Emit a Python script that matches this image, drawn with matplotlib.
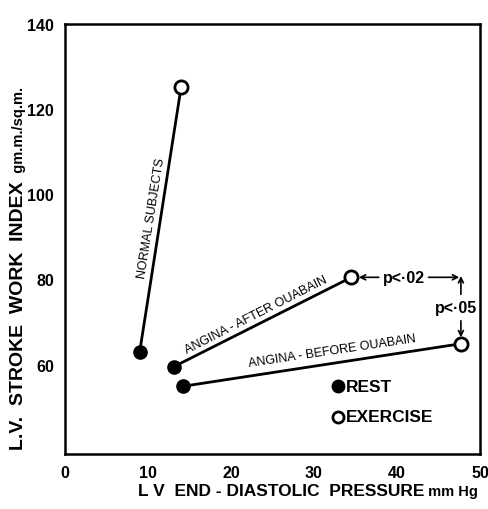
import matplotlib
matplotlib.use("Agg")
import matplotlib.pyplot as plt

plt.rcParams['font.family'] = ['Liberation Sans', 'DejaVu Sans']

# Data (LV end-diastolic pressure mm Hg, LV stroke work index gm.m./sq.m.)
groups = ["NORMAL SUBJECTS", "ANGINA - AFTER OUABAIN", "ANGINA - BEFORE OUABAIN"]
rest_x = [9.0, 13.1, 14.2]
rest_y = [63.0, 59.5, 54.9]
exer_x = [14.0, 34.5, 47.7]
exer_y = [125.3, 80.5, 64.9]

x_ticks = [0, 10, 20, 30, 40, 50]
y_ticks = [60, 80, 100, 120, 140]
p_horizontal = "p<·02"
p_vertical = "p<·05"
legend_labels = ["REST", "EXERCISE"]
legend_x = 32.9
legend_y = [54.9, 47.7]

fig = plt.figure(figsize=(4.89, 5.10), dpi=100)
ax = fig.add_axes([65/489, 1-455/510, (480-65)/489, (455-25)/510])
ax.set_xlim(0, 50)
ax.set_ylim(39, 140)
ax.set_xticks(x_ticks)
ax.set_yticks(y_ticks)
ax.tick_params(length=0, labelsize=11.5, pad=8)
for lab in ax.get_xticklabels() + ax.get_yticklabels():
    lab.set_fontweight('bold')
for s in ax.spines.values():
    s.set_linewidth(1.8)

ms = 9.5
for i in range(len(groups)):
    ax.plot([rest_x[i], exer_x[i]], [rest_y[i], exer_y[i]], color='black', lw=2, zorder=2)
    ax.plot(rest_x[i], rest_y[i], 'o', ms=ms, mfc='black', mec='black', zorder=3)
    ax.plot(exer_x[i], exer_y[i], 'o', ms=ms, mfc='white', mec='black', mew=2, zorder=3)

# line labels
ax.text(10.4, 94.5, groups[0], rotation=81, ha='center', va='center', fontsize=9)
ax.text(23.0, 71.8, groups[1], rotation=27, ha='center', va='center', fontsize=9)
ax.text(32.2, 63.2, groups[2], rotation=8.5, ha='center', va='center', fontsize=9)

# legend
ax.plot(legend_x, legend_y[0], 'o', ms=9, mfc='black', mec='black')
ax.plot(legend_x, legend_y[1], 'o', ms=8, mfc='white', mec='black', mew=2)
ax.text(legend_x + 1.0, legend_y[0], legend_labels[0], va='center', ha='left', fontsize=12.5, fontweight='bold')
ax.text(legend_x + 1.0, legend_y[1], legend_labels[1], va='center', ha='left', fontsize=12.5, fontweight='bold')

# significance annotations
corner_x = exer_x[2]
corner_y = exer_y[1]
arrow_kw = dict(arrowstyle='->', color='black', lw=1.2, shrinkA=0, shrinkB=0, mutation_scale=9)
ax.annotate('', xy=(exer_x[1] + 0.9, corner_y), xytext=(37.8, corner_y), arrowprops=arrow_kw)
ax.annotate('', xy=(corner_x - 0.2, corner_y), xytext=(43.8, corner_y), arrowprops=arrow_kw)
ax.text(40.8, corner_y, p_horizontal, ha='center', va='center', fontsize=11.5, fontweight='bold')
ax.annotate('', xy=(corner_x, corner_y + 0.3), xytext=(corner_x, 76.5), arrowprops=arrow_kw)
ax.annotate('', xy=(corner_x, exer_y[2] + 1.5), xytext=(corner_x, 70.3), arrowprops=arrow_kw)
ax.text(corner_x - 0.6, 73.5, p_vertical, ha='center', va='center', fontsize=11.5, fontweight='bold',
        bbox=dict(facecolor='white', edgecolor='none', pad=0.5))

# axis labels
t1 = fig.text(138/489, 1-492/510, "L V  END - DIASTOLIC  PRESSURE", ha='left', va='center',
              fontsize=12.5, fontweight='bold')
ax.annotate(" mm Hg", xy=(1, 0.5), xycoords=t1, ha='left', va='center', fontsize=10.5, fontweight='bold')
t2 = fig.text(19/489, 1-450/510, "L.V.  STROKE  WORK  INDEX", ha='center', va='bottom', rotation=90,
              fontsize=14, fontweight='bold')
ax.annotate("  gm.m./sq.m.", xy=(0.5, 1), xycoords=t2, ha='center', va='bottom', rotation=90,
            fontsize=10.5, fontweight='bold')

fig.savefig("out.png", dpi=100)
